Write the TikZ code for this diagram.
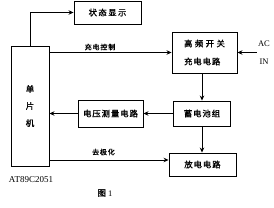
\documentclass[tikz,border=0pt]{standalone}
\usepackage{fontspec}
\setmainfont{Liberation Serif}
\newfontfamily\cjk{Noto Sans CJK SC}[LetterSpace=12,FakeBold=1.2]
\usetikzlibrary{arrows.meta}
\begin{document}
\begin{tikzpicture}[x=1pt,y=-1pt,
  box/.style={draw,line width=0.9pt,inner sep=0pt,font=\cjk\fontsize{8.3}{10}\selectfont},
  arr/.style={line width=0.8pt,-{Stealth[length=5pt,width=4.5pt]}},
  lbl/.style={font=\cjk\fontsize{7}{8}\selectfont,inner sep=0pt},
  serif/.style={font=\fontsize{9}{10}\selectfont,inner sep=0pt}]
\useasboundingbox (0,0) rectangle (274,208);
% boxes
\node[box,minimum width=38pt,minimum height=120pt,align=center,
      font=\cjk\fontsize{8.5}{17}\selectfont] (mcu) at (30,106) {单\\片\\机};
\node[box,minimum width=67pt,minimum height=23pt] (disp) at (107.5,12.5) {状\hspace{1.5pt}态\hspace{1.5pt}显\hspace{1.5pt}示};
\node[box,minimum width=65pt,minimum height=41pt,align=left,
      font=\cjk\fontsize{8.3}{18}\selectfont] (chg) at (204.5,52.5) {高\hspace{2.5pt}频\hspace{2.5pt}开\hspace{2.5pt}关\\充电电路};
\node[box,minimum width=57pt,minimum height=25pt] (bat) at (202,113.5) {蓄电池组};
\node[box,minimum width=65pt,minimum height=27pt] (vm) at (110.5,113.5) {电压测量电路};
\node[box,minimum width=67pt,minimum height=23pt] (dis) at (202.5,164.5) {放电电路};
% labels
\node[lbl] (lc) at (100,47) {充电控制};
\node[lbl] (ld) at (103.5,152) {去极化};
\node[serif] (at) at (31,180) {AT89C2051};
\node[serif,font=\fontsize{8.5}{10}\selectfont] (ac) at (264,44) {AC};
\node[serif,font=\fontsize{8.5}{10}\selectfont] (in) at (264,62) {IN};
\node[inner sep=0pt,font=\fontsize{8.5}{10}\selectfont] (fig) at (105,193) {{\cjk 图}\ 1};
\coordinate (acin) at (257,52.5);
% connectors
\draw[arr] (mcu.north) |- (disp.west);
\draw[arr] (mcu.east |- chg.west) -- (chg.west);
\draw[arr] (acin) -- (chg.east);
\draw[arr] (bat.north |- chg.south) -- (bat.north);
\draw[arr] (bat.south) -- (bat.south |- dis.north);
\draw[arr] (bat.west) -- (vm.east);
\draw[arr] (vm.west) -- (mcu.east |- vm.west);
\draw[arr] ([yshift=4.5pt]mcu.east |- dis.west) -- ([yshift=4.5pt]dis.west);
\end{tikzpicture}
\end{document}
